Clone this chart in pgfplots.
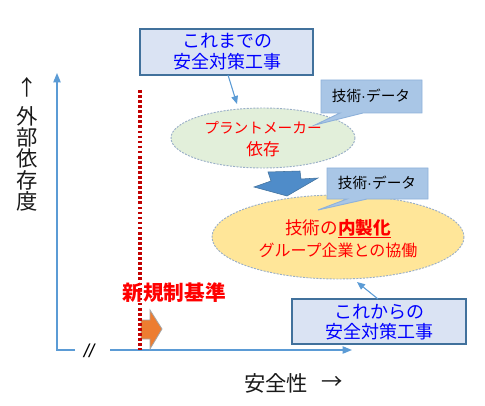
\documentclass[border=0pt]{standalone}
\usepackage{pgfplots}
\pgfplotsset{compat=1.18}
\usetikzlibrary{arrows.meta}
\usepackage{fontspec}
\setmainfont{Noto Sans CJK JP}
\newfontfamily\lat{Liberation Sans}
\definecolor{axblue}{HTML}{5B9BD5}
\definecolor{boxfill}{HTML}{DAE3F3}
\definecolor{boxline}{HTML}{41719C}
\definecolor{callfill}{HTML}{A9C6E6}
\definecolor{callline}{HTML}{8FB2DA}
\definecolor{greenfill}{HTML}{E2EFDA}
\definecolor{yellowfill}{HTML}{FFE699}
\definecolor{elline}{HTML}{9AAFC8}
\definecolor{darkred}{HTML}{C00000}
\definecolor{orangefill}{HTML}{ED7D31}
\definecolor{arrowblue}{HTML}{4F8CC9}
\begin{document}
\begin{tikzpicture}
\begin{axis}[
  hide axis, scale only axis,
  width=363.75pt, height=304.5pt,
  xmin=0, xmax=485, ymin=0, ymax=406,
  y dir=reverse, clip=false]
\path (axis cs:0,0) rectangle (axis cs:485,406);

% axes
\addplot[axblue, line width=0.9pt, -{Triangle[length=7pt,width=5.5pt]}]
  coordinates {(75,350) (57,350) (57,73)};
\addplot[axblue, line width=0.9pt, -{Triangle[length=7pt,width=5.5pt]}]
  coordinates {(110,350) (352,350)};
\node at (axis cs:89,351) {\lat\itshape\fontsize{14}{15}\selectfont //};

% orange arrow + regulation line
\addplot[fill=orangefill, draw=gray!70, line width=0.6pt]
  coordinates {(141,320) (150,320) (150,310) (162,329) (150,349) (150,339) (141,339)} -- cycle;
\addplot[darkred, line width=2.6pt, dash pattern=on 2pt off 1.8pt]
  coordinates {(140,90) (140,350)};
\node[text=red, font=\fontsize{15.5}{17}\selectfont\bfseries] at (axis cs:174,293) {新規制基準};

% axis labels
\begin{scope}[every node/.style={font=\fontsize{16}{17}\selectfont, text=black!90}]
\node at (axis cs:27,87) {↑};
\node at (axis cs:27,116) {外};
\node at (axis cs:27,137) {部};
\node at (axis cs:27,158) {依};
\node at (axis cs:27,180) {存};
\node at (axis cs:27,201) {度};
\node at (axis cs:276,383) {安全性};
\node at (axis cs:332,383) {→};
\end{scope}

% box 1
\draw[fill=boxfill, draw=boxline, line width=0.8pt] (axis cs:140,29) rectangle (axis cs:313,75);
\node[text=blue, align=center, font=\fontsize{13.5}{15.75}\selectfont] at (axis cs:227,52) {これまでの\\安全対策工事};
\addplot[axblue, line width=0.8pt, -{Triangle[length=6pt,width=5pt]}]
  coordinates {(228,75) (237,104)};

% green ellipse
\draw[fill=greenfill, draw=elline, line width=0.7pt, dash pattern=on 1.5pt off 1pt]
  (axis cs:263,138) ellipse [x radius=92, y radius=30];
\node[text=red, align=center, font=\fontsize{11}{17}\selectfont] at (axis cs:263,139) {プラントメーカー\\{\fontsize{12.5}{17}\selectfont 依存}};

% callout 1
\addplot[fill=callfill, draw=callline, line width=0.7pt]
  coordinates {(321,80) (422,80) (422,113) (363,113) (315,125) (340,113) (321,113)} -- cycle;
\node[font=\fontsize{11}{12}\selectfont] at (axis cs:371,96) {技術{\lat ·}データ};

% down arrow
\addplot[fill=arrowblue, draw=boxline, line width=0.4pt]
  coordinates {(268,172) (300,171) (301,179) (318,178) (287,196) (254,187) (271,181)} -- cycle;

% yellow ellipse
\draw[fill=yellowfill, draw=elline, line width=0.7pt, dash pattern=on 1.5pt off 1pt]
  (axis cs:338,237) ellipse [x radius=126, y radius=42];
\node[text=red, align=center, font=\fontsize{12}{17}\selectfont] at (axis cs:338,238.5)
  {{\fontsize{13.2}{17}\selectfont 技術の\underline{\textbf{内製化}}}\\グループ企業との協働};

% callout 2
\addplot[fill=callfill, draw=callline, line width=0.7pt]
  coordinates {(327,168) (428,168) (428,199) (367,199) (318,210) (347,199) (327,199)} -- cycle;
\node[font=\fontsize{11}{12}\selectfont] at (axis cs:377,183) {技術{\lat ·}データ};

% box 3
\draw[fill=boxfill, draw=boxline, line width=0.8pt] (axis cs:292,299) rectangle (axis cs:466,344);
\node[text=blue, align=center, font=\fontsize{13.5}{15}\selectfont] at (axis cs:379,322) {これからの\\安全対策工事};
\addplot[axblue, line width=0.8pt, -{Triangle[length=6pt,width=5pt]}]
  coordinates {(378,299) (357,282)};
\end{axis}
\end{tikzpicture}
\end{document}
